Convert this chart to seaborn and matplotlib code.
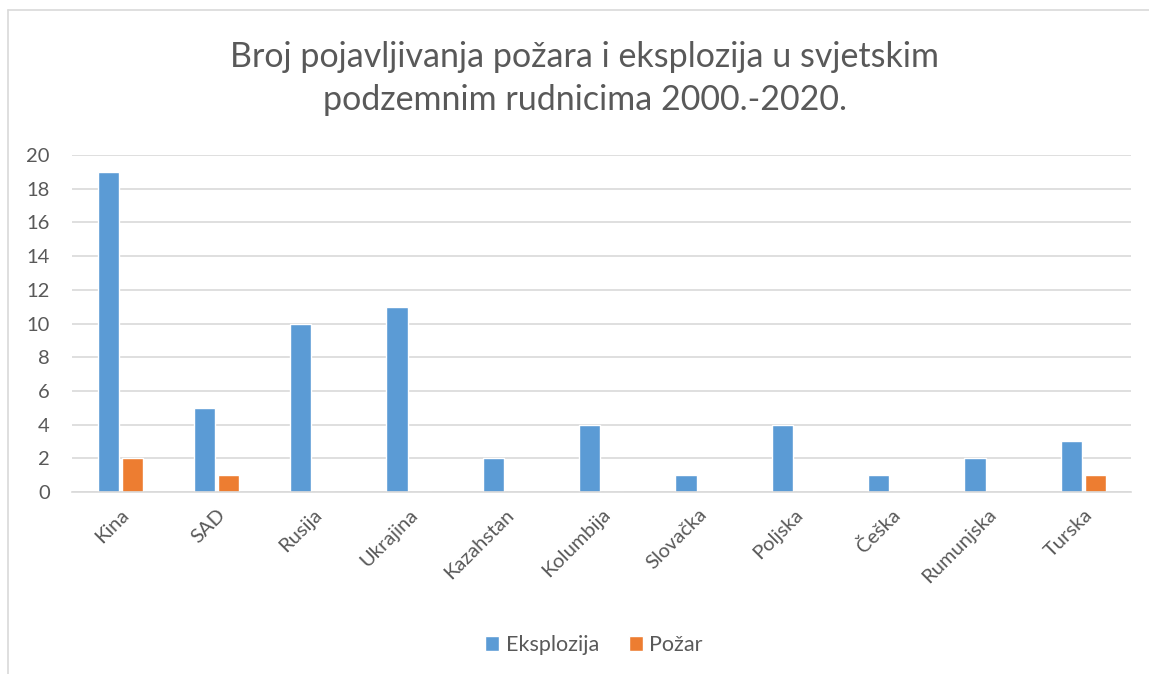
"""
Broj pojavljivanja pozara i eksplozija - grouped bar chart.
"""

import matplotlib
matplotlib.use('Agg')
import matplotlib.pyplot as plt
import matplotlib.lines as mlines
import seaborn as sns
import pandas as pd

# data
countries = ['Kina', 'SAD', 'Rusija', 'Ukrajina', 'Kazahstan', 'Kolumbija',
             'Slovačka', 'Poljska', 'Češka', 'Rumunjska', 'Turska']
eksplozija = [19, 5, 10, 11, 2, 4, 1, 4, 1, 2, 3]
pozar = [2, 1, 0, 0, 0, 0, 0, 0, 0, 0, 1]
series = ['Eksplozija', 'Požar']
colors = ['#5B9BD5', '#ED7D31']
y_ticks = list(range(0, 21, 2))

df = pd.DataFrame({'Zemlja': countries, series[0]: eksplozija, series[1]: pozar})
df_long = df.melt(id_vars='Zemlja', var_name='Vrsta', value_name='Broj')

sns.set_style('white')
plt.rcParams['font.family'] = ['Lato', 'DejaVu Sans']
text_color = '#595959'

fig = plt.figure(figsize=(11.49, 6.74), dpi=100)
ax = fig.add_axes([0.0627, 0.270, 0.922, 0.500])

sns.barplot(data=df_long, x='Zemlja', y='Broj', hue='Vrsta', order=countries,
            hue_order=series, palette=colors, width=0.5, gap=0.12,
            saturation=1, ax=ax, legend=True)

ax.set_ylim(0, 20)
ax.set_yticks(y_ticks)
ax.yaxis.grid(True, color='#d9d9d9', linewidth=1.2)
ax.set_axisbelow(True)
for side in ['top', 'right', 'left']:
    ax.spines[side].set_visible(False)
ax.spines['bottom'].set_color('#d9d9d9')
ax.spines['bottom'].set_linewidth(1.2)
ax.set_xlabel('')
ax.set_ylabel('')
ax.tick_params(axis='y', length=0, labelsize=14.5, colors=text_color, pad=16)
ax.tick_params(axis='x', length=0, labelsize=14.5, colors=text_color, pad=10)
plt.setp(ax.get_xticklabels(), rotation=45, ha='right', rotation_mode='anchor')
ax.set_xlim(-0.5, len(countries) - 0.5)

fig.suptitle('Broj pojavljivanja požara i eksplozija u svjetskim\npodzemnim rudnicima 2000.-2020.',
             x=0.509, y=0.883, va='center', fontsize=24.5, color=text_color, linespacing=1.42)

handles, labels = ax.get_legend_handles_labels()
ax.legend_.remove()
fig.legend(handles, labels, loc='center', bbox_to_anchor=(0.517, 0.043), ncol=2,
           frameon=False, fontsize=15.5, labelcolor=text_color, handlelength=0.65,
           handleheight=0.65, handletextpad=0.3, columnspacing=1.4)

# chart area border (only top and left visible in the reference)
fig.add_artist(mlines.Line2D([0.007, 1.0], [0.985, 0.985], color='#d9d9d9', linewidth=1.2))
fig.add_artist(mlines.Line2D([0.007, 0.007], [0.0, 0.985], color='#d9d9d9', linewidth=1.2))

plt.savefig('out.png', dpi=100)
